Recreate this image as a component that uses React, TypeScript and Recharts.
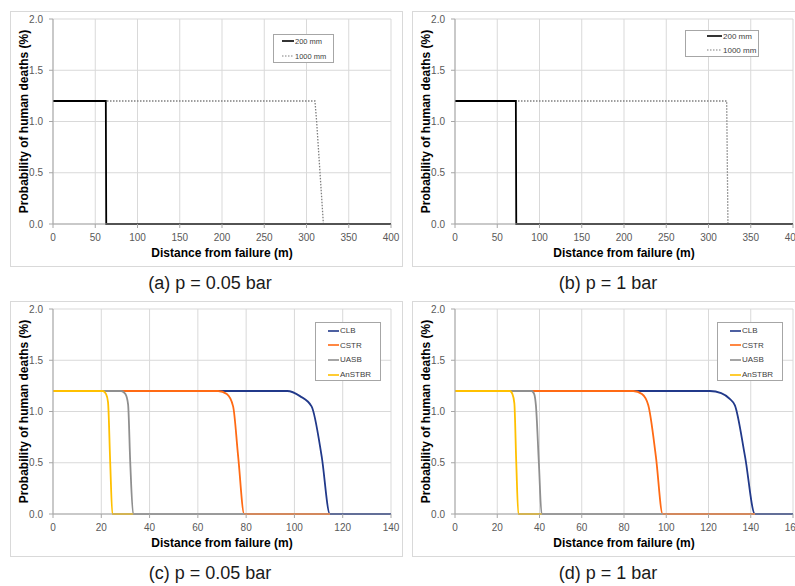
import React from 'react';
import { LineChart, Line, XAxis, YAxis, CartesianGrid, Legend } from 'recharts';

type Pt = { d: number; p: number };

const FONT = '"Liberation Sans", Arial, sans-serif';

// axis ticks
const yTicks = [0, 0.5, 1, 1.5, 2];
const xTicks400 = [0, 50, 100, 150, 200, 250, 300, 350, 400];
const xTicks140 = [0, 20, 40, 60, 80, 100, 120, 140];
const xTicks160 = [0, 20, 40, 60, 80, 100, 120, 140, 160];

// (a) p = 0.05 bar, pipe sizes
const pipe200A: Pt[] = [{ d: 0, p: 1.2 }, { d: 62.5, p: 1.2 }, { d: 63, p: 0 }, { d: 400, p: 0 }];
const pipe1000A: Pt[] = [
  { d: 0, p: 1.2 }, { d: 310, p: 1.2 }, { d: 312, p: 1.0 }, { d: 316, p: 0.5 }, { d: 320, p: 0 }, { d: 400, p: 0 },
];

// (b) p = 1 bar, pipe sizes
const pipe200B: Pt[] = [{ d: 0, p: 1.2 }, { d: 72, p: 1.2 }, { d: 72.5, p: 0 }, { d: 400, p: 0 }];
const pipe1000B: Pt[] = [{ d: 0, p: 1.2 }, { d: 321.5, p: 1.2 }, { d: 323, p: 0 }, { d: 400, p: 0 }];

// (c) p = 0.05 bar, reactors
const clbC: Pt[] = [
  { d: 0, p: 1.2 }, { d: 68, p: 1.2 }, { d: 90, p: 1.2 }, { d: 97, p: 1.2 }, { d: 102.3, p: 1.15 },
  { d: 107.1, p: 1.05 }, { d: 111.3, p: 0.56 }, { d: 114.7, p: 0 }, { d: 140, p: 0 },
];
const cstrC: Pt[] = [
  { d: 0, p: 1.2 }, { d: 68.4, p: 1.2 }, { d: 72, p: 1.17 }, { d: 74.6, p: 1.05 }, { d: 76.7, p: 0.56 },
  { d: 79.2, p: 0 }, { d: 114.7, p: 0 },
];
const uasbC: Pt[] = [
  { d: 0, p: 1.2 }, { d: 28.3, p: 1.2 }, { d: 30, p: 1.17 }, { d: 31.1, p: 1.07 }, { d: 32, p: 0.5 },
  { d: 33.2, p: 0 }, { d: 79.2, p: 0 },
];
const anstbrC: Pt[] = [
  { d: 0, p: 1.2 }, { d: 20.7, p: 1.2 }, { d: 22, p: 1.17 }, { d: 22.8, p: 1.09 }, { d: 23.7, p: 0.5 },
  { d: 24.6, p: 0 }, { d: 33.2, p: 0 },
];

// (d) p = 1 bar, reactors
const clbD: Pt[] = [
  { d: 0, p: 1.2 }, { d: 120.7, p: 1.2 }, { d: 126, p: 1.18 }, { d: 130.2, p: 1.12 }, { d: 132.5, p: 1.06 },
  { d: 137.3, p: 0.56 }, { d: 142, p: 0 }, { d: 160, p: 0 },
];
const cstrD: Pt[] = [
  { d: 0, p: 1.2 }, { d: 84.4, p: 1.2 }, { d: 88.5, p: 1.17 }, { d: 91.5, p: 1.06 }, { d: 95.1, p: 0.56 },
  { d: 98.3, p: 0 }, { d: 142, p: 0 },
];
const uasbD: Pt[] = [
  { d: 0, p: 1.2 }, { d: 36.3, p: 1.2 }, { d: 37.5, p: 1.17 }, { d: 38.3, p: 1.06 }, { d: 39.7, p: 0.5 },
  { d: 41, p: 0 }, { d: 98.3, p: 0 },
];
const anstbrD: Pt[] = [
  { d: 0, p: 1.2 }, { d: 26, p: 1.2 }, { d: 27.2, p: 1.17 }, { d: 28.1, p: 1.08 }, { d: 29, p: 0.5 },
  { d: 30, p: 0 }, { d: 41, p: 0 },
];

type Series = { name: string; data: Pt[]; color: string; width: number; dash?: string; curve: 'linear' | 'monotone' };
type LegendBox = { left: number; top: number; width: number; height: number; first: number; gap: number; lineX: number; lineLen: number; fontSize: number };

const BLUE = '#21398a';
const ORANGE = '#ff6a14';
const GRAY = '#8f8f8f';
const YELLOW = '#ffc000';

const pipeSeries = (d200: Pt[], d1000: Pt[]): Series[] => [
  { name: '200 mm', data: d200, color: '#000000', width: 1.8, curve: 'linear' },
  { name: '1000 mm', data: d1000, color: '#7f7f7f', width: 1.3, dash: '1.5 1.5', curve: 'linear' },
];

const reactorSeries = (clb: Pt[], cstr: Pt[], uasb: Pt[], an: Pt[]): Series[] => [
  { name: 'CLB', data: clb, color: BLUE, width: 1.8, curve: 'monotone' },
  { name: 'CSTR', data: cstr, color: ORANGE, width: 1.8, curve: 'monotone' },
  { name: 'UASB', data: uasb, color: GRAY, width: 1.8, curve: 'monotone' },
  { name: 'AnSTBR', data: an, color: YELLOW, width: 1.8, curve: 'monotone' },
];

interface PanelProps {
  x: number;
  y: number;
  xMax: number;
  xTicks: number[];
  series: Series[];
  drawOrder: number[];
  legend: LegendBox;
  caption: string;
  captionCenter: number;
}

const Panel: React.FC<PanelProps> = ({ x, y, xMax, xTicks, series, drawOrder, legend, caption, captionCenter }) => {
  const renderLegend = () => (
    <div
      style={{
        position: 'relative',
        width: legend.width,
        height: legend.height,
        border: '1px solid #a6a6a6',
        background: '#fff',
        boxSizing: 'border-box',
        fontFamily: FONT,
      }}
    >
      {series.map((s, i) => (
        <div
          key={s.name}
          style={{
            position: 'absolute',
            left: legend.lineX - 1,
            top: legend.first + i * legend.gap - 6,
            height: 12,
            display: 'flex',
            alignItems: 'center',
            whiteSpace: 'nowrap',
          }}
        >
          <svg width={legend.lineLen} height={4} style={{ display: 'block' }}>
            <line x1={0} y1={2} x2={legend.lineLen} y2={2} stroke={s.color} strokeWidth={s.dash ? 1.2 : 1.6} strokeDasharray={s.dash} />
          </svg>
          <span style={{ fontSize: legend.fontSize, color: '#404040', marginLeft: 1 }}>{s.name}</span>
        </div>
      ))}
    </div>
  );

  return (
    <>
      <div
        style={{
          position: 'absolute',
          left: x + 10,
          top: y + 11,
          width: 393,
          height: 256,
          border: '1px solid #d9d9d9',
          boxSizing: 'border-box',
        }}
      />
      <div style={{ position: 'absolute', left: x, top: y }}>
        <LineChart width={402} height={267} margin={{ top: 19, right: 11, bottom: 0, left: 0 }} style={{ fontFamily: FONT }}>
          <CartesianGrid stroke="#d9d9d9" strokeWidth={1} />
          <XAxis
            type="number"
            dataKey="d"
            domain={[0, xMax]}
            ticks={xTicks}
            interval={0}
            allowDataOverflow
            height={43}
            tickSize={4}
            tickMargin={6}
            tick={{ fill: '#595959', fontSize: 10 }}
            stroke="#a6a6a6"
            label={{ value: 'Distance from failure (m)', position: 'insideBottom', offset: 10, fill: '#000', fontSize: 12, fontWeight: 'bold' }}
          />
          <YAxis
            type="number"
            domain={[0, 2]}
            ticks={yTicks}
            interval={0}
            width={53}
            tickSize={4}
            tickMargin={6}
            tick={{ fill: '#595959', fontSize: 10 }}
            tickFormatter={(v: number) => v.toFixed(1)}
            stroke="#a6a6a6"
            label={{ value: 'Probability of human deaths (%)', angle: -90, position: 'center', dx: -3, fill: '#000', fontSize: 12, fontWeight: 'bold' }}
          />
          <Legend
            layout="vertical"
            align="center"
            verticalAlign="middle"
            content={renderLegend}
            wrapperStyle={{ left: legend.left, top: legend.top, width: legend.width, height: legend.height }}
          />
          {drawOrder.map((i) => {
            const s = series[i];
            return (
              <Line
                key={s.name}
                name={s.name}
                data={s.data}
                dataKey="p"
                type={s.curve}
                stroke={s.color}
                strokeWidth={s.width}
                strokeDasharray={s.dash}
                dot={false}
                activeDot={false}
                isAnimationActive={false}
              />
            );
          })}
        </LineChart>
      </div>
      <div
        style={{
          position: 'absolute',
          left: x + captionCenter - 150,
          top: y + 272,
          width: 300,
          textAlign: 'center',
          fontFamily: FONT,
          fontSize: 18,
          lineHeight: '22px',
          color: '#1a1a1a',
        }}
      >
        {caption}
      </div>
    </>
  );
};

const legendA: LegendBox = { left: 273, top: 34, width: 61, height: 29, first: 6, gap: 15, lineX: 9, lineLen: 12, fontSize: 7.5 };
const legendB: LegendBox = { left: 283, top: 30, width: 74, height: 27, first: 5, gap: 14, lineX: 22, lineLen: 15, fontSize: 8 };
const legendCD: LegendBox = { left: 315, top: 32, width: 66, height: 59, first: 7.5, gap: 14.7, lineX: 13, lineLen: 11, fontSize: 8 };

export default function App() {
  return (
    <div
      style={{
        position: 'absolute',
        left: 0,
        top: 0,
        width: 795,
        height: 586,
        overflow: 'hidden',
        background: '#fff',
      }}
    >
      <Panel x={0} y={0} xMax={400} xTicks={xTicks400} series={pipeSeries(pipe200A, pipe1000A)} drawOrder={[1, 0]}
        legend={legendA} caption="(a) p = 0.05 bar" captionCenter={210} />
      <Panel x={402} y={0} xMax={400} xTicks={xTicks400} series={pipeSeries(pipe200B, pipe1000B)} drawOrder={[1, 0]}
        legend={legendB} caption="(b) p = 1 bar" captionCenter={206} />
      <Panel x={0} y={290} xMax={140} xTicks={xTicks140} series={reactorSeries(clbC, cstrC, uasbC, anstbrC)} drawOrder={[0, 1, 2, 3]}
        legend={legendCD} caption="(c) p = 0.05 bar" captionCenter={210} />
      <Panel x={402} y={290} xMax={160} xTicks={xTicks160} series={reactorSeries(clbD, cstrD, uasbD, anstbrD)} drawOrder={[0, 1, 2, 3]}
        legend={legendCD} caption="(d) p = 1 bar" captionCenter={206} />
    </div>
  );
}
